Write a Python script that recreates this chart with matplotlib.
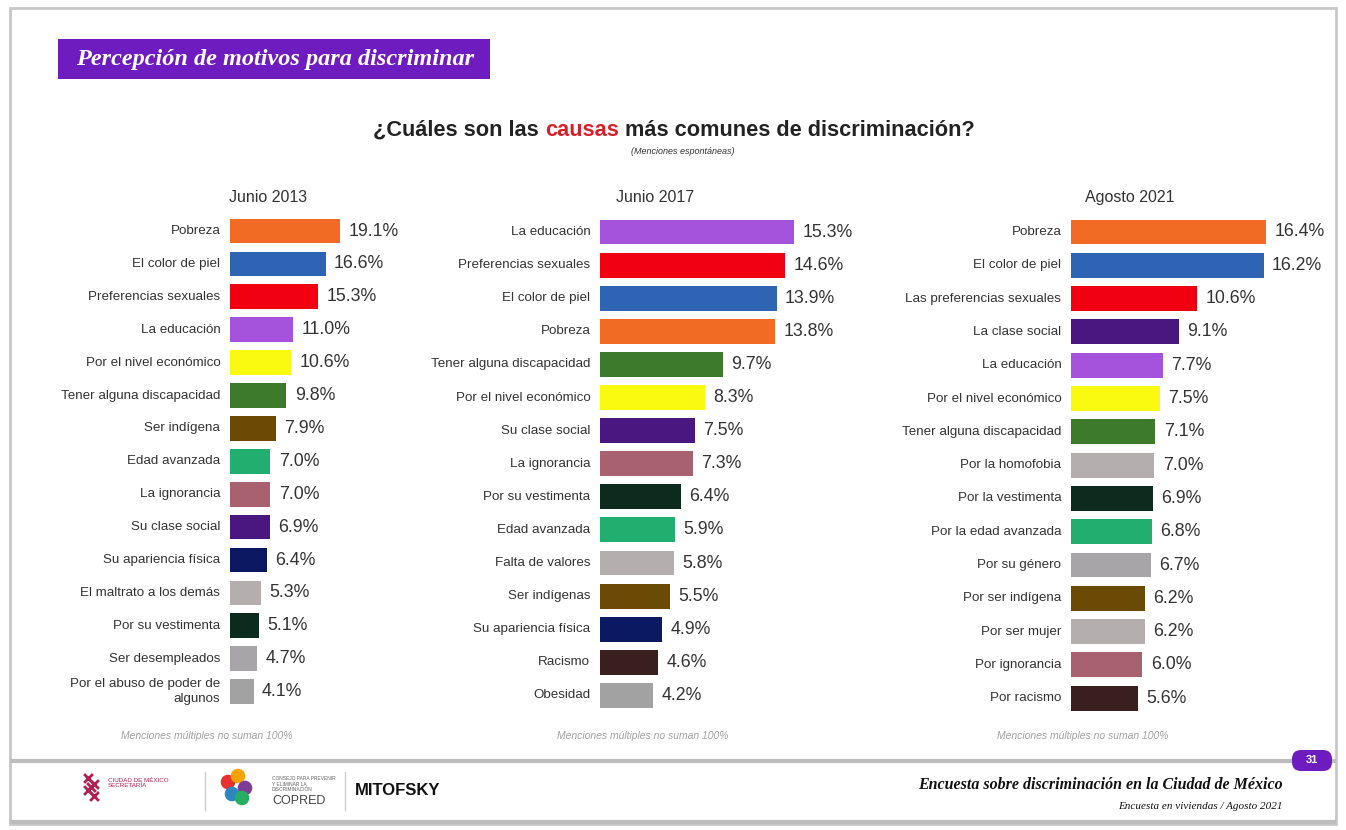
import matplotlib
matplotlib.use("Agg")
import matplotlib.pyplot as plt
from matplotlib import font_manager
from matplotlib.patches import Rectangle, FancyBboxPatch

# pick a narrow sans if available
names = {f.name for f in font_manager.fontManager.ttflist}
NARROW = "Liberation Sans Narrow" if "Liberation Sans Narrow" in names else "Liberation Sans"
plt.rcParams["font.family"] = [NARROW, "DejaVu Sans"]

W, H = 1346, 830

# data
cats_2013 = ["Pobreza", "El color de piel", "Preferencias sexuales", "La educación",
             "Por el nivel económico", "Tener alguna discapacidad", "Ser indígena",
             "Edad avanzada", "La ignorancia", "Su clase social", "Su apariencia física",
             "El maltrato a los demás", "Por su vestimenta", "Ser desempleados",
             "Por el abuso de poder de\nalgunos"]
vals_2013 = [19.1, 16.6, 15.3, 11.0, 10.6, 9.8, 7.9, 7.0, 7.0, 6.9, 6.4, 5.3, 5.1, 4.7, 4.1]

cats_2017 = ["La educación", "Preferencias sexuales", "El color de piel", "Pobreza",
             "Tener alguna discapacidad", "Por el nivel económico", "Su clase social",
             "La ignorancia", "Por su vestimenta", "Edad avanzada", "Falta de valores",
             "Ser indígenas", "Su apariencia física", "Racismo", "Obesidad"]
vals_2017 = [15.3, 14.6, 13.9, 13.8, 9.7, 8.3, 7.5, 7.3, 6.4, 5.9, 5.8, 5.5, 4.9, 4.6, 4.2]

cats_2021 = ["Pobreza", "El color de piel", "Las preferencias sexuales", "La clase social",
             "La educación", "Por el nivel económico", "Tener alguna discapacidad",
             "Por la homofobia", "Por la vestimenta", "Por la edad avanzada", "Por su género",
             "Por ser indígena", "Por ser mujer", "Por ignorancia", "Por racismo"]
vals_2021 = [16.4, 16.2, 10.6, 9.1, 7.7, 7.5, 7.1, 7.0, 6.9, 6.8, 6.7, 6.2, 6.2, 6.0, 5.6]

# colours
ORANGE, BLUE, RED, VIOLET = "#F26B25", "#2F64B5", "#F00010", "#A552DC"
YELLOW, GREEN, BROWN, TEAL = "#FAFA10", "#3E7A2C", "#6A4A04", "#22AE6E"
MAUVE, PURPLE, NAVY, DKGREEN = "#A8626F", "#4A1680", "#0B1862", "#0C2A1E"
GRAY1, GRAY2, GRAY3, DKBROWN = "#B4AEAF", "#A8A5A8", "#A2A2A2", "#3A1F1F"

colors_2013 = [ORANGE, BLUE, RED, VIOLET, YELLOW, GREEN, BROWN, TEAL, MAUVE, PURPLE,
               NAVY, GRAY1, DKGREEN, GRAY2, GRAY3]
colors_2017 = [VIOLET, RED, BLUE, ORANGE, GREEN, YELLOW, PURPLE, MAUVE, DKGREEN, TEAL,
               GRAY1, BROWN, NAVY, DKBROWN, GRAY3]
colors_2021 = [ORANGE, BLUE, RED, PURPLE, VIOLET, YELLOW, GREEN, GRAY1, DKGREEN, TEAL,
               GRAY2, BROWN, GRAY1, MAUVE, DKBROWN]

fig = plt.figure(figsize=(W / 100, H / 100), dpi=100)
fig.patch.set_facecolor("white")


def fx(x):
    return x / W


def fy(y):
    return 1 - y / H


# slide frame
bg = fig.add_axes([0, 0, 1, 1])
bg.set_xlim(0, W)
bg.set_ylim(H, 0)
bg.axis("off")
bg.add_patch(Rectangle((10, 8), 1326, 816, fill=False, ec="#C8C8C8", lw=2))
bg.plot([12, 1334], [761, 761], color="#BDBDBD", lw=3)
bg.plot([12, 1334], [822, 822], color="#BDBDBD", lw=3)

# purple banner
bg.add_patch(Rectangle((58, 39), 432, 40, fc="#6E1CC0", ec="none"))
bg.text(76, 59, "Percepción de motivos para discriminar", color="white",
        family="Liberation Serif", style="italic", weight="bold", fontsize=17.5,
        va="center", ha="left")

# main title, "causas" in red
title_y = 130
fs_title = 15.7
fig.canvas.draw()
r = fig.canvas.get_renderer()
x_cur = 373
for part, col in [("¿Cuáles son las ", "#222222"), ("causas", "#D8202A"),
                  (" más comunes de discriminación?", "#222222")]:
    t = bg.text(x_cur, title_y, part, fontsize=fs_title, weight="bold", color=col,
                family="Liberation Sans", va="center", ha="left")
    bb = t.get_window_extent(r)
    x_cur += bb.width
bg.text(683, 151, "(Menciones espontáneas)", fontsize=6.5, style="italic", color="#333333",
        ha="center", va="center")


def panel(cats, vals, colors, x0, scale, y_first, step, header, header_x, note_x):
    n = len(cats)
    width_px = 260
    top = y_first - step / 2
    bottom = y_first + step * (n - 0.5)
    ax = fig.add_axes([fx(x0), fy(bottom), width_px / W, (bottom - top) / H])
    ax.barh(range(n), vals, height=0.75, color=colors, edgecolor="none")
    ax.set_xlim(0, width_px / scale)
    ax.set_ylim(n - 0.5, -0.5)
    ax.axis("off")
    for i, (c, v) in enumerate(zip(cats, vals)):
        ax.annotate(c, (0, i), xytext=(-7, 0), textcoords="offset points", ha="right",
                    va="center", ma="right", fontsize=9.6, color="#333333", linespacing=1.3)
        ax.annotate(f"{v:.1f}%", (v, i), xytext=(6, 0), textcoords="offset points",
                    ha="left", va="center", fontsize=12.8, color="#333333")
    bg.text(header_x, 197, header, fontsize=11.5, color="#333333", ha="center", va="center")
    bg.text(note_x, 736, "Menciones múltiples no suman 100%", fontsize=7.5, style="italic",
            color="#A0A0A0", ha="center", va="center")
    return ax


panel(cats_2013, vals_2013, colors_2013, 230, 5.76, 231, 32.9, "Junio 2013", 268, 207)
panel(cats_2017, vals_2017, colors_2017, 600, 12.7, 232, 33.1, "Junio 2017", 655, 643)
panel(cats_2021, vals_2021, colors_2021, 1071, 11.9, 232, 33.3, "Agosto 2021", 1130, 1083)

# page badge
bg.add_patch(FancyBboxPatch((1292, 750), 40, 21, boxstyle="round,pad=0,rounding_size=9",
                            fc="#6E1CC0", ec="none", zorder=5))
bg.text(1312, 760, "31", color="white", fontsize=8, weight="bold", ha="center", va="center",
        zorder=6)

# footer: logos as text
bg.scatter([88, 94, 88, 94, 91], [778, 784, 790, 796, 787], s=40, marker="x",
           color="#B02050", lw=2)
bg.text(108, 783, "CIUDAD DE MÉXICO\nSECRETARÍA", fontsize=4.5, color="#B02050",
        va="center", ha="left")
bg.plot([205, 205], [772, 810], color="#CCCCCC", lw=1)
bg.scatter([228, 238, 245, 232, 242], [782, 776, 788, 794, 798], s=90,
           color=["#E8312F", "#F5A300", "#7D3C98", "#2E86C1", "#27AE60"])
bg.text(272, 784, "CONSEJO PARA PREVENIR\nY ELIMINAR LA\nDISCRIMINACIÓN", fontsize=3.5,
        color="#666666", va="center", ha="left")
bg.text(272, 801, "COPRED", fontsize=9, color="#444444", va="center", ha="left")
bg.plot([345, 345], [772, 810], color="#CCCCCC", lw=1)
bg.text(398, 790, "MITOFSKY", fontsize=12, weight="bold", color="#111111", ha="center",
        va="center")

bg.text(1283, 785, "Encuesta sobre discriminación en la Ciudad de México",
        family="Liberation Serif", style="italic", weight="bold", fontsize=11.5,
        color="#111111", ha="right", va="center")
bg.text(1283, 806, "Encuesta en viviendas / Agosto 2021", family="Liberation Serif",
        style="italic", fontsize=8, color="#111111", ha="right", va="center")

fig.savefig("out.png", dpi=100, facecolor="white")
